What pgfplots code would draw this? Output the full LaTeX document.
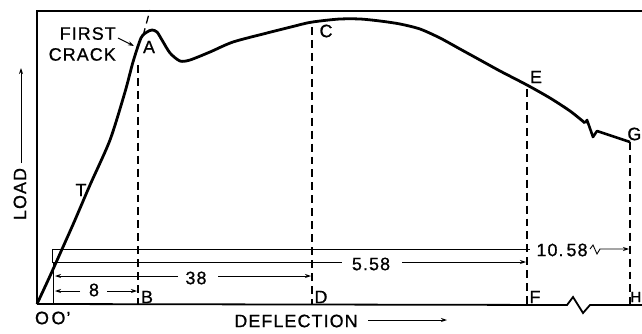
\documentclass[border=0pt]{standalone}
\usepackage{fontspec}
\setmainfont[LetterSpace=6, FakeBold=0.8]{Liberation Sans}
\usepackage{pgfplots}
\pgfplotsset{compat=1.18}
\usetikzlibrary{arrows.meta}
\newcommand\lf{\fontsize{18}{21}\selectfont}
\begin{document}
\begin{tikzpicture}[lab/.style={font=\lf, inner sep=0pt}]
\begin{axis}[
  width=642bp, height=334bp, scale only axis,
  xmin=0, xmax=642, ymin=0, ymax=334, y dir=reverse,
  axis lines=none, clip=false,
  dsh/.style={line width=1.3pt, dash pattern=on 8pt off 5pt, black},
  dim/.style={line width=0.9pt, black},
  arr/.style={-{Stealth[length=6pt,width=4pt]}},
]
% frame
\addplot[line width=1.8pt, black] coordinates {(37,304)(37,11)(642,11)};
\addplot[line width=1.8pt, black] coordinates {(37,304)(567,305)(573,297)(583,313)(590,305)(642,305)};
% load-deflection curve
\addplot[line width=2.8pt, black, smooth, tension=0.45, line join=round] coordinates {
(37,304)(50,276)(63,247)(75,220)(90,185)(110,140)(125,92)(133,62)(141,38)(147,32)(152,30)(157,32)(162,40)(170,53)(180,61)(190,60)(210,52)(233,42)(267,33)(287,28)(307,23)(320,21)(340,19)(360,19)(380,21)(400,24)(420,29)(440,38)(460,49)(480,60)(500,71)(527,85)(550,98)(570,111)(585,123)};
\addplot[line width=2.6pt, black, line join=round] coordinates {(585,123)(587,120)(593,137)(597,131)(630,142)};
% tangent extension
\addplot[dsh] coordinates {(143,36)(150,10)};
% vertical dashed lines
\addplot[dsh] coordinates {(138,65)(138,304)};
\addplot[dsh] coordinates {(312,27)(312,304)};
\addplot[dsh] coordinates {(527,89)(527,304)};
\addplot[dsh] coordinates {(630,142)(630,304)};
% dimension lines
\addplot[dim] coordinates {(53,304)(53,262)(52,262)(52,249)(530,249)};
\addplot[dim, arr] coordinates {(590,249)(593,245)(597,254)(600,249)(629,249)};
\addplot[dim] coordinates {(52,262)(342,262)};
\addplot[dim, arr] coordinates {(402,262)(526,262)};
\addplot[dim, arr] coordinates {(178,276)(55,276)};
\addplot[dim, arr] coordinates {(218,276)(311,276)};
\addplot[dim, arr] coordinates {(80,291)(55,291)};
\addplot[dim, arr] coordinates {(107,291)(137,291)};
% labels
\node[lab, anchor=east, align=right] at (axis cs:116,44) {FIRST\\CRACK};
\addplot[line width=1pt, arr] coordinates {(118,38)(134,46)};
\node[lab] at (axis cs:149,47) {A};
\node[lab] at (axis cs:326,31) {C};
\node[lab] at (axis cs:536,77) {E};
\node[lab, anchor=east] at (axis cs:641.5,134) {G};
\node[lab, anchor=east, font=\fontsize{15}{17}\selectfont] at (axis cs:641.5,297) {H};
\node[lab] at (axis cs:81,190) {T};
\node[lab] at (axis cs:147,297) {B};
\node[lab] at (axis cs:321,297) {D};
\node[lab] at (axis cs:535,297) {F};
\node[lab] at (axis cs:94,290) {8};
\node[lab] at (axis cs:196,278) {38};
\node[lab] at (axis cs:371,264) {5.58};
\node[lab] at (axis cs:562,250) {10.\,58};
\node[lab] at (axis cs:42,318) {O};
\node[lab] at (axis cs:61,318) {O'};
\node[lab, rotate=90] at (axis cs:20,194) {LOAD};
\addplot[line width=1pt, arr] coordinates {(21,163)(21,68)};
\node[lab] at (axis cs:296,321) {DEFLECTION};
\addplot[line width=1pt, arr] coordinates {(368,320)(447,320)};
\end{axis}
\pgfresetboundingbox
\path[use as bounding box] (current axis.south west) rectangle (current axis.north east);
\end{tikzpicture}
\end{document}
